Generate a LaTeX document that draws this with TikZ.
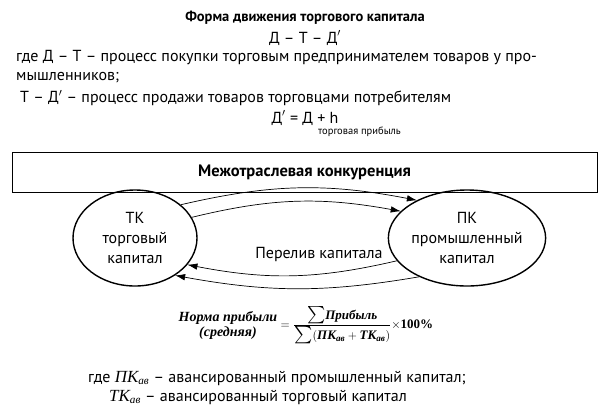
\documentclass[tikz,border=0pt]{standalone}
\usepackage{amsmath}
\usepackage{fontspec}
\setmainfont{PT Sans}
\newfontfamily\formfont{Liberation Serif}
\usetikzlibrary{arrows.meta,shapes.geometric,positioning}

\newcommand{\bigsum}{\text{\fontsize{17}{17}\selectfont$\sum$}}

\begin{document}
\begin{tikzpicture}[x=1pt, y=1pt, font=\fontsize{16}{20}\selectfont,
    txt/.style={inner sep=0pt},
    flow/.style={-{Latex[length=10pt,width=6.5pt]}, line width=0.7pt},
    capital/.style={draw, ellipse, line width=1.4pt, minimum width=124pt,
      minimum height=96pt, inner sep=0pt, align=center},
    formula/.style={inner sep=0pt, font=\formfont\bfseries\itshape\fontsize{13}{15}\selectfont}]
    \def\boxw{585} % width of the competition box
    \def\lx{135} % centre of trade capital
    \def\rx{467} % centre of industrial capital
    \def\cy{-238} % height of both centres

    \useasboundingbox (0,0) rectangle (609,-410);

    % Form of movement of trade capital
    \node[txt, font=\fontsize{14.5}{20}\selectfont\bfseries] (title) at (305,-18) {Форма движения торгового капитала};
    \node[txt] (move) at (305,-38) {Д – Т – Д$'$};
    \node[txt, anchor=west] (buy) at (16,-58) {где Д – Т – процесс покупки торговым предпринимателем товаров у про-};
    \node[txt, anchor=west] (buyend) at (16,-78) {мышленников;};
    \node[txt, anchor=west] (sell) at (20,-98) {Т – Д$'$ – процесс продажи товаров торговцами потребителям};
    \node[txt] (profit) at (305,-118) {Д$'$ = Д + h};
    \node[txt, anchor=west, font=\fontsize{10.5}{12}\selectfont] (profitnote) at (318,-132) {торговая прибыль};

    % Competition between branches
    \node[draw, line width=0.8pt, minimum width=\boxw, minimum height=40,
      font=\fontsize{16.5}{20}\selectfont\bfseries] (compete) at (304.5,-172) {Межотраслевая конкуренция};

    \node[capital] (tk) at (\lx,\cy) {ТК\\торговый\\капитал};
    \node[capital] (pk) at (\rx,\cy) {ПК\\промышленный\\капитал};

    % Flows of capital
    \draw[flow] (tk.36) to[bend left=12] (pk.143);
    \draw[flow] (tk.20) to[bend left=12] (pk.158);
    \draw[flow] (pk.198) to[bend left=12] (tk.-27);
    \draw[flow] (pk.219) to[bend left=10] (tk.-43);
    \node[txt] (flowlabel) at (319,-254) {Перелив капитала};

    % Average rate of profit
    \node[formula, align=center, font=\formfont\bfseries\itshape\fontsize{14}{15}\selectfont] (rate) at (228,-325) {Норма прибыли\\(средняя)};
    \node[formula, right=3pt of rate] (ratio) {$=\dfrac{\bigsum\text{Прибыль}}{\bigsum(\text{ПК}_{\text{ав}}+\text{ТК}_{\text{ав}})}\times$\textup{100\%}};

    \node[txt, anchor=west] (notepk) at (88,-378) {где {\formfont\itshape\fontsize{17}{20}\selectfont ПК}$_{\text{\formfont\itshape ав}}$ – авансированный промышленный капитал;};
    \node[txt, anchor=west] (notetk) at (109,-397) {{\formfont\itshape\fontsize{17}{20}\selectfont ТК}$_{\text{\formfont\itshape ав}}$ – авансированный торговый капитал};
\end{tikzpicture}
\end{document}
